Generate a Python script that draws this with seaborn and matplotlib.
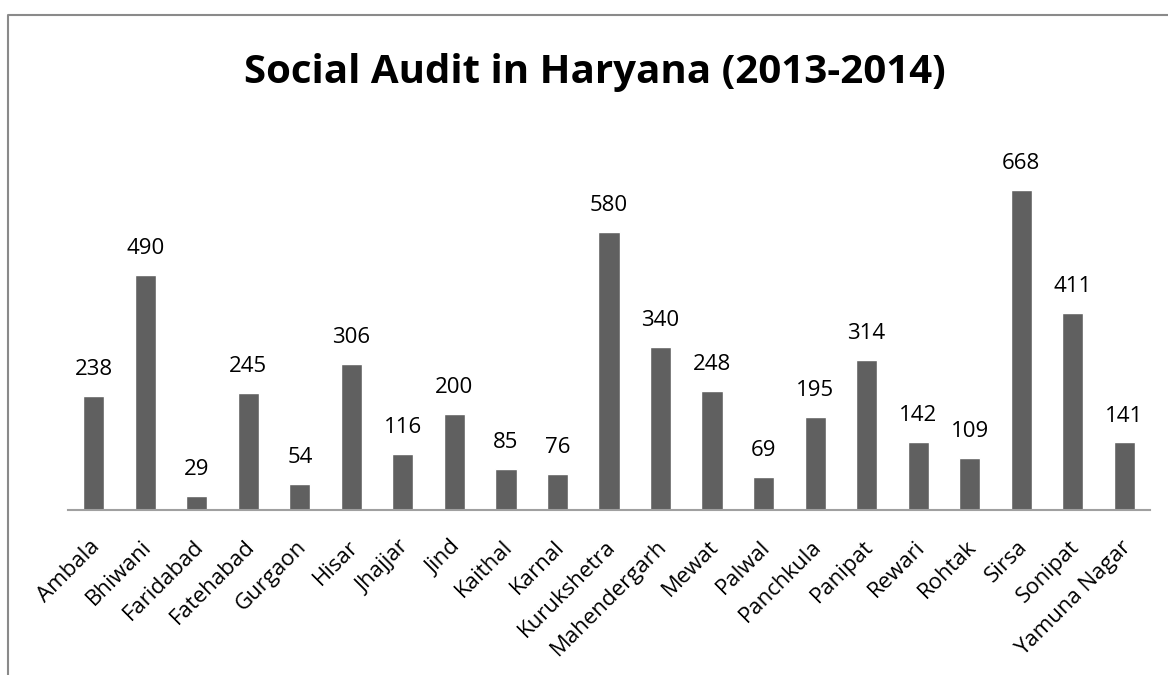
import matplotlib
matplotlib.use("Agg")
import matplotlib.pyplot as plt
from matplotlib.lines import Line2D
from matplotlib.transforms import ScaledTranslation
import seaborn as sns
import pandas as pd

districts = ["Ambala", "Bhiwani", "Faridabad", "Fatehabad", "Gurgaon", "Hisar",
             "Jhajjar", "Jind", "Kaithal", "Karnal", "Kurukshetra", "Mahendergarh",
             "Mewat", "Palwal", "Panchkula", "Panipat", "Rewari", "Rohtak", "Sirsa",
             "Sonipat", "Yamuna Nagar"]
audits = [238, 490, 29, 245, 54, 306, 116, 200, 85, 76, 580, 340, 248, 69, 195,
          314, 142, 109, 668, 411, 141]
title = "Social Audit in Haryana (2013-2014)"

df = pd.DataFrame({"District": districts, "Audits": audits})

sns.set_theme(style="white")
plt.rcParams["font.family"] = ["Open Sans", "DejaVu Sans"]

W, H = 1168, 675
fig = plt.figure(figsize=(W / 100, H / 100), dpi=100)
ax = fig.add_axes([68 / W, 1 - 510 / H, (1150 - 68) / W, 383 / H])

sns.barplot(data=df, x="District", y="Audits", color="#606060", saturation=1,
            width=0.41, ax=ax)
ax.set_xlim(-0.5, len(districts) - 0.5)
ax.set_ylim(0, 800)

for c in ax.containers:
    ax.bar_label(c, labels=[str(v) for v in audits], padding=11.5,
                 fontsize=16, color="black")

ax.set_xlabel("")
ax.set_ylabel("")
ax.set_yticks([])
for s in ["left", "right", "top"]:
    ax.spines[s].set_visible(False)
ax.spines["bottom"].set_color("#a0a0a0")
ax.spines["bottom"].set_linewidth(1.5)
ax.tick_params(axis="x", length=0, pad=19)
ax.set_xticks(range(len(districts)))
ax.set_xticklabels(districts, rotation=45, ha="right", rotation_mode="anchor",
                   fontsize=16, color="black")
shift = ScaledTranslation(-4 / 100, 0, fig.dpi_scale_trans)
for lbl in ax.get_xticklabels():
    lbl.set_transform(lbl.get_transform() + shift)

fig.text(595 / W, 1 - 72 / H, title, ha="center", va="center",
         fontsize=29, fontweight="bold", color="black")

# chart-area frame (left and top edges)
fig.add_artist(Line2D([8 / W, 8 / W, 1.0], [0.0, 1 - 15 / H, 1 - 15 / H],
                      transform=fig.transFigure, color="#8a8a8a", lw=1.5))

fig.savefig("out.png", dpi=100, facecolor="white")
